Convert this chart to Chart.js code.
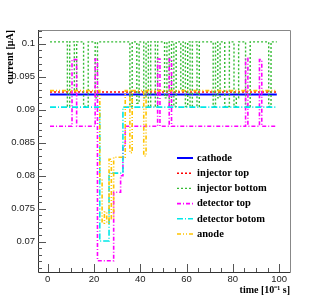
<!DOCTYPE html>
<html>
<head>
    <meta charset="UTF-8">
    <title>Current vs time</title>
    <script src="https://cdn.jsdelivr.net/npm/chart.js"></script>
    <style>
        body { margin: 0; background: #fff; }
        canvas { display: block; }
    </style>
</head>
<body>

<canvas id="current-chart" width="315" height="302"></canvas>

<script>
    // time axis in units of 10^-1 s
    const time = [
        1, 2, 3, 4, 5, 6, 7, 8, 9, 10,
        11, 12, 13, 14, 15, 16, 17, 18, 19, 20,
        21, 22, 23, 24, 25, 26, 27, 28, 29, 30,
        31, 32, 33, 34, 35, 36, 37, 38, 39, 40,
        41, 42, 43, 44, 45, 46, 47, 48, 49, 50,
        51, 52, 53, 54, 55, 56, 57, 58, 59, 60,
        61, 62, 63, 64, 65, 66, 67, 68, 69, 70,
        71, 72, 73, 74, 75, 76, 77, 78, 79, 80,
        81, 82, 83, 84, 85, 86, 87, 88, 89, 90,
        91, 92, 93, 94, 95, 96, 97, 98, 99
    ];

    // currents in uA
    const cathode = [
        .0923, .0923, .0923, .0923, .0923, .0923, .0923, .0923, .0923, .0923,
        .0923, .0923, .0923, .0923, .0923, .0923, .0923, .0923, .0923, .0923,
        .0923, .0923, .0923, .0923, .0923, .0923, .0923, .0923, .0923, .0923,
        .0923, .0923, .0923, .0923, .0923, .0923, .0923, .0923, .0923, .0923,
        .0923, .0923, .0923, .0923, .0923, .0923, .0923, .0923, .0923, .0923,
        .0923, .0923, .0923, .0923, .0923, .0923, .0923, .0923, .0923, .0923,
        .0923, .0923, .0923, .0923, .0923, .0923, .0923, .0923, .0923, .0923,
        .0923, .0923, .0923, .0923, .0923, .0923, .0923, .0923, .0923, .0923,
        .0923, .0923, .0923, .0923, .0923, .0923, .0923, .0923, .0923, .0923,
        .0923, .0923, .0923, .0923, .0923, .0923, .0923, .0923, .0923
    ];
    const injectorTop = [
        .0927, .0927, .0927, .0927, .0927, .0927, .0927, .0927, .0927, .0927,
        .0927, .0927, .0927, .0927, .0927, .0927, .0927, .0927, .0927, .0927,
        .0927, .0927, .0927, .0927, .0927, .0927, .0927, .0927, .0927, .0927,
        .0927, .0927, .0927, .0927, .0927, .0927, .0927, .0927, .0927, .0927,
        .0927, .0927, .0927, .0927, .0927, .0927, .0927, .0927, .0927, .0927,
        .0927, .0927, .0927, .0927, .0927, .0927, .0927, .0927, .0927, .0927,
        .0927, .0927, .0927, .0927, .0927, .0927, .0927, .0927, .0927, .0927,
        .0927, .0927, .0927, .0927, .0927, .0927, .0927, .0927, .0927, .0927,
        .0927, .0927, .0927, .0927, .0927, .0927, .0927, .0927, .0927, .0927,
        .0927, .0927, .0927, .0927, .0927, .0927, .0927, .0927, .0927
    ];
    const injectorBottom = [
        .1003, .1003, .1003, .1003, .1003, .1003, .1003, .1003, .0905, .1003,
        .1003, .0930, .1003, .1003, .1003, .0905, .0905, .1003, .1003, .1003,
        .0918, .1003, .1003, .1003, .1003, .1003, .1003, .1003, .1003, .1003,
        .1003, .1003, .1003, .1003, .1003, .0905, .1003, .1003, .0910, .1003,
        .1003, .0918, .1003, .0905, .1003, .1003, .0905, .1003, .1003, .1003,
        .0918, .1003, .0905, .1003, .0905, .1003, .1003, .0930, .1003, .0905,
        .1003, .0905, .1003, .1003, .0905, .1003, .1003, .1003, .1003, .1003,
        .1003, .0905, .1003, .0918, .1003, .1003, .0905, .0905, .1003, .1003,
        .0905, .0918, .1003, .1003, .1003, .0905, .0905, .1003, .1003, .1003,
        .1003, .1003, .1003, .1003, .1003, .0905, .1003, .1003, .1003
    ];
    const detectorTop = [
        .0875, .0875, .0875, .0875, .0875, .0875, .0875, .0875, .0875, .0875,
        .0976, .0976, .0875, .0875, .0875, .0875, .0875, .0875, .0875, .0875,
        .0977, .0671, .0671, .0671, .0671, .0671, .0671, .0671, .0775, .0775,
        .0775, .0800, .0845, .0875, .0875, .0875, .0875, .0875, .0875, .0875,
        .0875, .0875, .0875, .0875, .0875, .0875, .0875, .0977, .0875, .0875,
        .0875, .0875, .0977, .0875, .0875, .0875, .0875, .0875, .0875, .0875,
        .0875, .0875, .0875, .0875, .0875, .0875, .0875, .0875, .0875, .0875,
        .0875, .0875, .0875, .0875, .0875, .0875, .0875, .0875, .0875, .0875,
        .0875, .0875, .0875, .0875, .0875, .0978, .0875, .0875, .0875, .0875,
        .0875, .0976, .0875, .0875, .0875, .0875, .0875, .0875, .0875
    ];
    const detectorBottom = [
        .0904, .0904, .0904, .0904, .0904, .0904, .0904, .0904, .0904, .0904,
        .0904, .0904, .0904, .0904, .0904, .0904, .0904, .0904, .0904, .0904,
        .0904, .0904, .0701, .0701, .0701, .0701, .0804, .0804, .0804, .0804,
        .0804, .0804, .0904, .0904, .0904, .0904, .0904, .0904, .0904, .0904,
        .0904, .0904, .0904, .0904, .0904, .0904, .0904, .0904, .0904, .0904,
        .0904, .0904, .0904, .0904, .0904, .0904, .0904, .0904, .0904, .0904,
        .0904, .0904, .0904, .0904, .0904, .0904, .0904, .0904, .0904, .0904,
        .0904, .0904, .0904, .0904, .0904, .0904, .0904, .0904, .0904, .0904,
        .0904, .0904, .0904, .0904, .0904, .0904, .0904, .0904, .0904, .0904,
        .0904, .0904, .0904, .0904, .0904, .0904, .0904, .0904, .0904
    ];
    const anode = [
        .0929, .0929, .0929, .0929, .0929, .0929, .0929, .0929, .0929, .0929,
        .0929, .0929, .0929, .0929, .0929, .0929, .0929, .0929, .0929, .0929,
        .0929, .0929, .0795, .0728, .0745, .0728, .0825, .0735, .0828, .0828,
        .0828, .0828, .0828, .0929, .0929, .0835, .0929, .0929, .0929, .0929,
        .0929, .0830, .0929, .0929, .0929, .0929, .0929, .0929, .0929, .0929,
        .0929, .0929, .0929, .0929, .0929, .0929, .0929, .0929, .0929, .0929,
        .0929, .0929, .0929, .0929, .0929, .0929, .0929, .0929, .0929, .0929,
        .0929, .0929, .0929, .0929, .0929, .0929, .0929, .0929, .0929, .0929,
        .0929, .0929, .0929, .0929, .0929, .0929, .0929, .0929, .0929, .0929,
        .0929, .0929, .0929, .0929, .0929, .0929, .0929, .0929, .0929
    ];

    const seriesNames = ['cathode', 'injector top', 'injector bottom', 'detector top', 'detector botom', 'anode'];
    const seriesValues = [cathode, injectorTop, injectorBottom, detectorTop, detectorBottom, anode];
    const seriesColors = ['#0000ff', '#ff0000', '#33bb33', '#ff00ff', '#00e8e8', '#ffc400'];
    const seriesDash = [[], [2, 2], [2, 2], [4, 2, 1, 2], [6, 2, 1, 2], [4, 2, 1, 2, 1, 2]];
    const seriesWidth = [2, 1.6, 1.4, 1.6, 1.6, 1.6];

    const xTickLabels = [0, 20, 40, 60, 80, 100];
    const yTickLabels = [0.07, 0.075, 0.08, 0.085, 0.09, 0.095, 0.1];

    const titleFont = { family: '"Liberation Serif", "Times New Roman", serif', size: 10, weight: 'bold' };
    const tickFont = { family: '"Liberation Sans", Arial, sans-serif', size: 9.5 };

    // ROOT-like frame, inward ticks and legend
    const rootFrame = {
        id: 'rootFrame',
        afterDraw(chart) {
            const ctx = chart.ctx;
            const a = chart.chartArea;
            const xs = chart.scales.x, ys = chart.scales.y;
            ctx.save();
            ctx.lineWidth = 1;
            ctx.strokeStyle = '#888';
            ctx.beginPath();
            ctx.moveTo(a.left, a.top + 0.5);
            ctx.lineTo(a.right + 0.5, a.top + 0.5);
            ctx.lineTo(a.right + 0.5, a.bottom);
            ctx.stroke();

            ctx.strokeStyle = '#333';
            ctx.beginPath();
            ctx.moveTo(a.left + 0.5, a.top);
            ctx.lineTo(a.left + 0.5, a.bottom + 0.5);
            ctx.lineTo(a.right + 0.5, a.bottom + 0.5);
            ctx.stroke();

            ctx.strokeStyle = '#555';
            ctx.beginPath();
            for (let i = 66; i <= 102; i++) {
                const y = Math.round(ys.getPixelForValue(i / 1000)) + 0.5;
                const len = i % 5 === 0 ? 8 : 4;
                ctx.moveTo(a.left, y);
                ctx.lineTo(a.left + len, y);
            }
            for (let t = 0; t <= 100; t += 5) {
                const x = Math.round(xs.getPixelForValue(t)) + 0.5;
                const len = t % 20 === 0 ? 8 : 4;
                ctx.moveTo(x, a.bottom);
                ctx.lineTo(x, a.bottom - len);
            }
            ctx.stroke();

            // legend
            const x0 = 177, x1 = 193, yStart = 158, step = 15.2;
            ctx.font = 'bold 10.5px "Liberation Serif", "Times New Roman", serif';
            ctx.textBaseline = 'middle';
            ctx.textAlign = 'left';
            chart.data.datasets.forEach((ds, i) => {
                const y = yStart + i * step;
                ctx.strokeStyle = ds.borderColor;
                ctx.lineWidth = ds.borderWidth;
                ctx.setLineDash(ds.borderDash);
                ctx.beginPath();
                ctx.moveTo(x0, y);
                ctx.lineTo(x1, y);
                ctx.stroke();
                ctx.setLineDash([]);
                ctx.fillStyle = '#000';
                ctx.fillText(ds.label, 197, y);
            });
            ctx.restore();
        }
    };

    const ctx = document.getElementById('current-chart').getContext('2d');

    new Chart(ctx, {
        type: 'line',
        data: {
            datasets: seriesNames.map((name, i) => ({
                label: name,
                data: time.map((t, k) => ({ x: t, y: seriesValues[i][k] })),
                borderColor: seriesColors[i],
                borderWidth: seriesWidth[i],
                borderDash: seriesDash[i],
                pointRadius: 0,
                fill: false,
                stepped: 'middle',
                order: 6 - i
            }))
        },
        options: {
            responsive: false,
            animation: false,
            layout: { padding: { left: 0, top: 30, right: 25, bottom: 0 } },
            plugins: {
                legend: { display: false },
                tooltip: { enabled: false }
            },
            scales: {
                x: {
                    type: 'linear',
                    min: -4.2,
                    max: 104.7,
                    grid: { display: false, drawTicks: false },
                    border: { display: false },
                    afterBuildTicks: s => { s.ticks = xTickLabels.map(v => ({ value: v })); },
                    afterFit: s => { s.height = 30; },
                    ticks: {
                        font: tickFont,
                        color: '#222',
                        padding: 2,
                        maxRotation: 0,
                        autoSkip: false
                    },
                    title: {
                        display: true,
                        text: 'time [10⁻¹ s]',
                        align: 'end',
                        color: '#000',
                        font: titleFont,
                        padding: { top: 0, bottom: 6 }
                    }
                },
                y: {
                    min: 0.0654,
                    max: 0.1021,
                    grid: { display: false, drawTicks: false },
                    border: { display: false },
                    afterBuildTicks: s => { s.ticks = yTickLabels.map(v => ({ value: v })); },
                    afterFit: s => { s.width = 38; },
                    ticks: {
                        font: tickFont,
                        color: '#222',
                        padding: 3,
                        autoSkip: false,
                        callback: v => String(+v.toFixed(4))
                    },
                    title: {
                        display: true,
                        text: 'current [μA]',
                        align: 'end',
                        color: '#000',
                        font: titleFont,
                        padding: { top: 4, bottom: 0 }
                    }
                }
            }
        },
        plugins: [rootFrame]
    });
</script>

</body>
</html>
